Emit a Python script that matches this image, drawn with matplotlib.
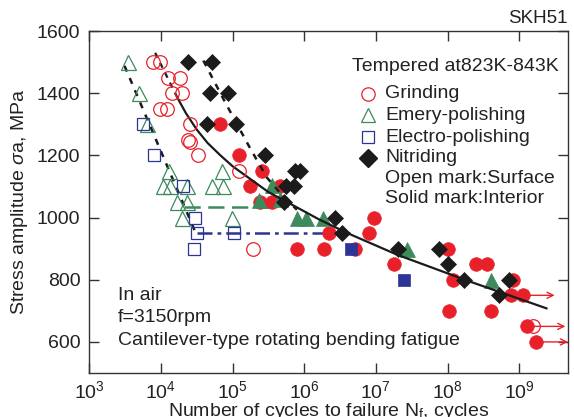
import matplotlib.pyplot as plt
from matplotlib.ticker import NullLocator

plt.rcParams['font.family'] = ['Liberation Sans', 'DejaVu Sans']
plt.rcParams['mathtext.fontset'] = 'custom'
plt.rcParams['mathtext.rm'] = 'Liberation Sans'
plt.rcParams['mathtext.it'] = 'Liberation Sans:italic'
plt.rcParams['font.size'] = 14

RED = '#e8202a'
GREEN = '#3d8a5c'
BLUE = '#2c3595'
BLACK = '#1b1b1b'
AXC = '#333333'

# ---- test data: cycles to failure / stress amplitude (MPa) ----
# grinding, surface (open) and interior (solid) initiated failures
grind_open_n = [7.8e3, 9.8e3, 1.26e4, 1.86e4, 1.41e4, 1.95e4, 9.8e3, 1.2e4,
                2.55e4, 2.4e4, 2.57e4, 3.3e4, 1.23e5, 1.9e5, 1.58e9]
grind_open_s = [1500, 1500, 1450, 1450, 1400, 1400, 1350, 1350,
                1300, 1250, 1243, 1200, 1150, 900, 650]
grind_solid_n = [6.7e4, 1.24e5, 2.57e5, 1.76e5, 4.57e5, 2.43e5, 3.55e5,
                 9.3e6, 7.9e6, 2.19e6, 8.0e5, 1.9e6, 5.1e6, 1.78e7,
                 1.02e8, 1.2e8, 2.5e8, 3.55e8, 8.3e8, 7.8e8, 1.05e8, 4.1e8,
                 1.12e9, 1.29e9, 1.72e9]
grind_solid_s = [1300, 1200, 1150, 1100, 1100, 1050, 1050,
                 1000, 950, 950, 900, 900, 900, 850,
                 900, 800, 850, 850, 800, 750, 700, 700,
                 750, 650, 600]
# run-outs (did not fail), marked with arrows
runout_n = [1.12e9, 1.58e9, 1.72e9]
runout_s = [750, 650, 600]

# emery-polishing
emery_open_n = [3.5e3, 5.0e3, 6.3e3, 1.31e4, 1.06e4, 1.34e4, 2.3e4, 1.66e4,
                2.3e4, 1.95e4, 7.1e4, 5.1e4, 7.4e4, 9.8e4]
emery_open_s = [1500, 1400, 1300, 1150, 1100, 1100, 1100, 1050,
                1050, 1000, 1150, 1100, 1100, 1000]
emery_solid_n = [2.3e5, 3.55e5, 4.57e5, 7.9e5, 1.07e6, 1.82e6, 2.75e7, 4.0e8]
emery_solid_s = [1055, 1105, 1060, 1000, 1000, 1000, 900, 800]

# electro-polishing
electro_open_n = [5.7e3, 7.9e3, 2.04e4, 3.0e4, 3.2e4, 1.06e5, 2.9e4]
electro_open_s = [1300, 1200, 1100, 1000, 950, 950, 900]
electro_solid_n = [4.5e6, 2.43e7]
electro_solid_s = [900, 800]

# nitriding
nitr_n = [2.37e4, 5.1e4, 4.85e4, 8.7e4, 4.4e4, 1.12e5, 2.8e5, 7.4e5, 8.7e5,
          5.5e5, 7.2e5, 5.2e5, 2.7e6, 3.4e6, 2.04e7, 7.5e7, 1.02e8, 1.7e8,
          7.2e8, 5.25e8]
nitr_s = [1500, 1500, 1400, 1400, 1300, 1300, 1200, 1150, 1150,
          1100, 1100, 1050, 1000, 950, 900, 900, 850, 800,
          800, 750]

# S-N curves
sn_main_n = [1.7e4, 2.24e4, 3.16e4, 4.47e4, 6.76e4, 1.0e5, 1.58e5, 3.16e5,
             6.3e5, 1.58e6, 4.0e6, 2.0e7, 2.0e8, 2.4e9]
sn_main_s = [1385, 1335, 1283, 1240, 1200, 1165, 1132, 1082,
             1045, 995, 950, 880, 795, 708]
sn_main_ext_n = [8.3e3, 1.7e4]
sn_main_ext_s = [1530, 1385]
sn_nitr_n = [3.9e4, 7.9e4, 1.67e5, 3.0e5, 5.0e5, 7.9e5]
sn_nitr_s = [1505, 1370, 1232, 1129, 1070, 1025]
sn_polish_n = [3.1e3, 3.06e4]
sn_polish_s = [1488, 950]
limit_emery_n = [2.1e4, 4.5e5]
limit_emery_s = [1035, 1035]
limit_electro_n = [3.2e4, 4.4e6]
limit_electro_s = [950, 950]

x_ticks = [1e3, 1e4, 1e5, 1e6, 1e7, 1e8, 1e9]
x_tick_labels = [r'$10^{%d}$' % k for k in range(3, 10)]
y_ticks = [600, 800, 1000, 1200, 1400, 1600]

fig = plt.figure(figsize=(5.74, 4.17), dpi=100)
ax = fig.add_axes([0.1556, 0.1055, 0.8334, 0.8201])
ax.set_xscale('log')
ax.set_xlim(1e3, 4.75e9)
ax.set_ylim(500, 1600)

# filled markers first, open ones on top
ax.plot(grind_solid_n, grind_solid_s, ls='none', marker='o', ms=9.8,
        mfc=RED, mec=RED, mew=0.5, zorder=3)
ax.plot(emery_solid_n, emery_solid_s, ls='none', marker='^', ms=10.8,
        mfc=GREEN, mec=GREEN, mew=0.5, zorder=4)
ax.plot(electro_solid_n, electro_solid_s, ls='none', marker='s', ms=9.2,
        mfc=BLUE, mec=BLUE, mew=0.5, zorder=4)
ax.plot(nitr_n, nitr_s, ls='none', marker='D', ms=8.0,
        mfc=BLACK, mec=BLACK, mew=0.5, zorder=5)
ax.plot(grind_open_n, grind_open_s, ls='none', marker='o', ms=9.8,
        mfc='none', mec=RED, mew=0.9, zorder=6)
ax.plot(emery_open_n, emery_open_s, ls='none', marker='^', ms=10.8,
        mfc='none', mec=GREEN, mew=0.9, zorder=6)
ax.plot(electro_open_n, electro_open_s, ls='none', marker='s', ms=9.2,
        mfc='none', mec=BLUE, mew=0.9, zorder=6)

# S-N curves
ax.plot(sn_main_n, sn_main_s, color=BLACK, lw=1.6, zorder=5.5)
ax.plot(sn_main_ext_n, sn_main_ext_s, color=BLACK, lw=1.6,
        ls=(0, (2.5, 2.5)), zorder=5.5)
ax.plot(sn_nitr_n, sn_nitr_s, color=BLACK, lw=1.8, ls=(0, (2.5, 2.8)),
        zorder=5.5)
ax.plot(sn_polish_n, sn_polish_s, color=BLACK, lw=1.8, ls=(0, (2.5, 2.8)),
        zorder=5.5)
ax.plot(limit_emery_n, limit_emery_s, color=GREEN, lw=1.8,
        ls=(0, (6.5, 3)), zorder=2)
ax.plot(limit_electro_n, limit_electro_s, color=BLUE, lw=1.8,
        ls=(0, (6, 2, 1.5, 2)), zorder=2)

for n, s in zip(runout_n, runout_s):
    ax.annotate('', xy=(n, s), xytext=(23, 0), textcoords='offset points',
                arrowprops=dict(arrowstyle='<-', color=RED, lw=1.0,
                                shrinkA=0, shrinkB=0, mutation_scale=11),
                zorder=7)

# axes styling
ax.set_xticks(x_ticks)
ax.set_xticklabels(x_tick_labels)
ax.xaxis.set_minor_locator(NullLocator())
ax.set_yticks(y_ticks)
ax.tick_params(direction='in', top=True, right=True, length=7, width=1.0,
               color=AXC, labelsize=14, labelcolor='#222222')
ax.tick_params(axis='x', pad=5)
ax.tick_params(axis='y', pad=6.5)
for sp in ax.spines.values():
    sp.set_color(AXC)
    sp.set_linewidth(1.0)

ax.set_xlabel(r'Number of cycles to failure N$_\mathrm{f}$, cycles',
              fontsize=14, color='#222222')
ax.xaxis.set_label_coords(0.5, -0.082)
ax.set_ylabel(r'Stress amplitude $\sigma$a, MPa', fontsize=14, labelpad=5,
              color='#222222')

# key
tr = ax.transAxes
ax.text(0.549, 0.895, 'Tempered at823K-843K', transform=tr, fontsize=14,
        va='center', ha='left', color='#222222')
key_rows = [0.816, 0.754, 0.690, 0.629, 0.570, 0.509]
key_labels = ['Grinding', 'Emery-polishing', 'Electro-polishing', 'Nitriding',
              'Open mark:Surface', 'Solid mark:Interior']
key_x = 0.5826
ax.plot([key_x], [key_rows[0]], transform=tr, marker='o', ms=9.6,
        mfc='none', mec=RED, mew=0.9, clip_on=False)
ax.plot([key_x], [key_rows[1]], transform=tr, marker='^', ms=10.5,
        mfc='none', mec=GREEN, mew=0.9, clip_on=False)
ax.plot([key_x], [key_rows[2]], transform=tr, marker='s', ms=9.2,
        mfc='none', mec=BLUE, mew=0.9, clip_on=False)
ax.plot([key_x], [key_rows[3]], transform=tr, marker='D', ms=9.2,
        mfc=BLACK, mec=BLACK, clip_on=False)
for y, lab in zip(key_rows, key_labels):
    ax.text(0.618, y, lab, transform=tr, fontsize=14, va='center',
            ha='left', color='#222222')

ax.text(0.06, 0.228, 'In air', transform=tr, fontsize=14, va='center',
        color='#222222')
ax.text(0.06, 0.161, 'f=3150rpm', transform=tr, fontsize=14, va='center',
        color='#222222')
ax.text(0.06, 0.0965, 'Cantilever-type rotating bending fatigue',
        transform=tr, fontsize=14, va='center', color='#222222')
ax.text(1.0, 1.012, 'SKH51', transform=tr, fontsize=13.5, ha='right',
        va='bottom', color='#222222')

fig.savefig('out.png', dpi=100)
